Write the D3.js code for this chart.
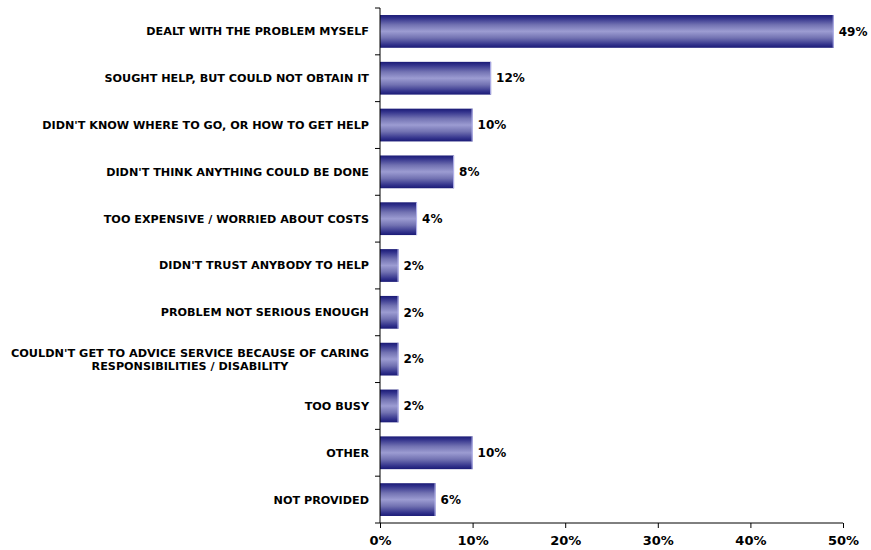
<!DOCTYPE html>
<html>
<head>
<meta charset="utf-8">
<script src="https://cdn.jsdelivr.net/npm/d3@7"></script>
<style>
  body { margin: 0; background: #fff; }
  svg text { font-family: "DejaVu Sans", Verdana, sans-serif; font-weight: bold; fill: #000; }
</style>
</head>
<body>
<svg id="chart" width="871" height="550"></svg>
<script>
// Reasons for not seeking help (share of respondents, %)
const categories = [
  "DEALT WITH THE PROBLEM MYSELF",
  "SOUGHT HELP, BUT COULD NOT OBTAIN IT",
  "DIDN'T KNOW WHERE TO GO, OR HOW TO GET HELP",
  "DIDN'T THINK ANYTHING COULD BE DONE",
  "TOO EXPENSIVE / WORRIED ABOUT COSTS",
  "DIDN'T TRUST ANYBODY TO HELP",
  "PROBLEM NOT SERIOUS ENOUGH",
  "COULDN'T GET TO ADVICE SERVICE BECAUSE OF CARING|RESPONSIBILITIES / DISABILITY",
  "TOO BUSY",
  "OTHER",
  "NOT PROVIDED"
];
const values = [49, 12, 10, 8, 4, 2, 2, 2, 2, 10, 6];
const xTicks = [0, 10, 20, 30, 40, 50];

const svg = d3.select("#chart");
const plotLeft = 380, plotRight = 843, plotTop = 8, plotBottom = 523;

const x = d3.scaleLinear().domain([0, 50]).range([plotLeft, plotRight]);
const y = d3.scaleBand().domain(categories).range([plotTop, plotBottom]).paddingInner(0.3).paddingOuter(0.15);

// Bar fill: dark edges fading to a pale lavender centre
const defs = svg.append("defs");
const grad = defs.append("linearGradient").attr("id", "barGrad")
  .attr("x1", 0).attr("y1", 0).attr("x2", 0).attr("y2", 1);
[[0, "#1a1a76"], [0.1, "#33338c"], [0.3, "#7272b2"], [0.5, "#9c9cd2"],
 [0.7, "#7272b2"], [0.9, "#33338c"], [1, "#1a1a76"]]
  .forEach(([o, c]) => grad.append("stop").attr("offset", o).attr("stop-color", c));

const bars = svg.append("g");
bars.selectAll("rect")
  .data(values)
  .join("rect")
  .attr("x", x(0))
  .attr("y", (d, i) => y(categories[i]))
  .attr("width", d => x(d) - x(0))
  .attr("height", y.bandwidth())
  .attr("fill", "url(#barGrad)");

// Pale highlight on the end of each bar
bars.selectAll("line")
  .data(values)
  .join("line")
  .attr("x1", d => x(d) - 0.5).attr("x2", d => x(d) - 0.5)
  .attr("y1", (d, i) => y(categories[i]))
  .attr("y2", (d, i) => y(categories[i]) + y.bandwidth())
  .attr("stroke", "#b4b4ec").attr("stroke-width", 1);

// Value labels
svg.append("g").selectAll("text")
  .data(values)
  .join("text")
  .attr("x", d => x(d) + 5)
  .attr("y", (d, i) => y(categories[i]) + y.bandwidth() / 2)
  .attr("dy", "0.35em")
  .attr("font-size", 12)
  .text(d => d + "%");

// Category labels (a "|" marks a line break)
const catG = svg.append("g");
categories.forEach(c => {
  const lines = c.split("|");
  const cy = y(c) + y.bandwidth() / 2;
  const t = catG.append("text")
    .attr("x", 369)
    .attr("text-anchor", lines.length > 1 ? "middle" : "end")
    .attr("font-size", 11.2);
  if (lines.length > 1) {
    lines.forEach((ln, j) => {
      t.append("tspan")
        .attr("x", 190)
        .attr("y", cy + (j - (lines.length - 1) / 2) * 13)
        .attr("dy", "0.35em")
        .attr("textLength", j === 0 ? 358 : null)
        .attr("lengthAdjust", "spacingAndGlyphs")
        .text(ln);
    });
  } else {
    t.attr("y", cy).attr("dy", "0.35em").text(c);
  }
});

// Y axis line with ticks at band boundaries
const yAxisG = svg.append("g");
yAxisG.append("line")
  .attr("x1", plotLeft).attr("x2", plotLeft).attr("y1", plotTop).attr("y2", plotBottom)
  .attr("stroke", "#000").attr("stroke-width", 1);
const boundaries = d3.range(categories.length + 1).map(i => plotTop + i * (plotBottom - plotTop) / categories.length);
yAxisG.selectAll("line.tick")
  .data(boundaries)
  .join("line")
  .attr("class", "tick")
  .attr("x1", plotLeft - 5).attr("x2", plotLeft)
  .attr("y1", d => d).attr("y2", d => d)
  .attr("stroke", "#000");

// X axis
const xAxis = d3.axisBottom(x).tickValues(xTicks).tickFormat(d => d + "%").tickSize(5).tickPadding(8);
const xg = svg.append("g").attr("transform", `translate(0,${plotBottom})`).call(xAxis);
xg.select(".domain").attr("stroke", "#000").attr("d", `M${plotLeft},0H${plotRight}`);
xg.selectAll(".tick line").attr("stroke", "#000");
xg.selectAll(".tick text").attr("font-size", 13).attr("font-family", "DejaVu Sans, Verdana, sans-serif").attr("font-weight", "bold");
</script>
</body>
</html>
